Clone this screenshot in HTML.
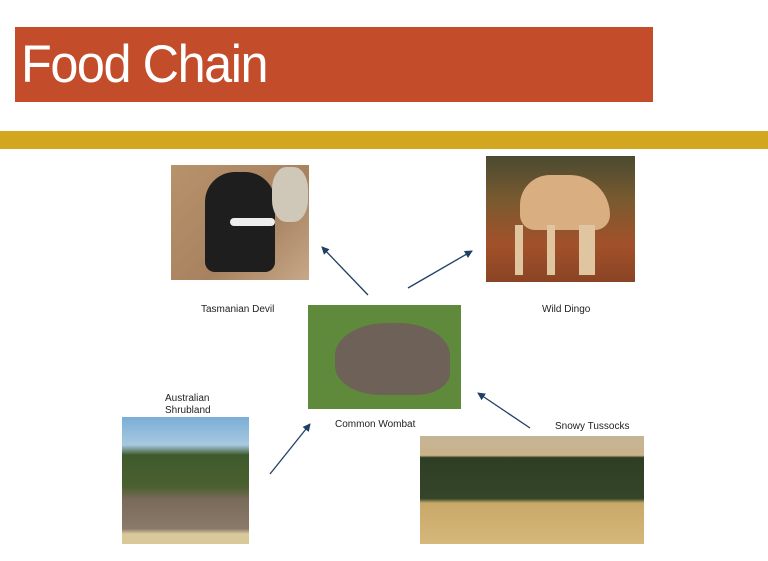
<!DOCTYPE html>
<html><head><style>
body{margin:0;width:768px;height:561px;background:#fff;position:relative;overflow:hidden;font-family:"Liberation Sans",sans-serif}
.a{position:absolute}
.l{position:absolute;font-size:10px;color:#222;line-height:12px}
</style></head><body>
<div class="a" style="left:15px;top:27px;width:638px;height:75px;background:#c34c2a"></div>
<div class="a" style="left:21px;top:34px;font-size:53px;color:#fff;letter-spacing:-1.5px;transform:scaleX(0.95);transform-origin:left">Food Chain</div>
<div class="a" style="left:0;top:131px;width:768px;height:18px;background:#d3a61f"></div>

<div class="a" style="left:171px;top:165px;width:138px;height:115px;background:linear-gradient(135deg,#b8926a,#a88260 60%,#c6a888)"></div>
<div class="a" style="left:205px;top:172px;width:70px;height:100px;background:#1e1e1e;border-radius:30px 30px 10px 10px"></div>
<div class="a" style="left:272px;top:167px;width:36px;height:55px;background:#cfc7b8;border-radius:40%"></div>
<div class="a" style="left:230px;top:218px;width:45px;height:8px;background:#eee;border-radius:4px"></div>

<div class="a" style="left:486px;top:156px;width:149px;height:126px;background:linear-gradient(180deg,#4a4a30,#7a5a30 35%,#a2512a 70%,#8a4424)"></div>
<div class="a" style="left:520px;top:175px;width:90px;height:55px;background:#d9ae80;border-radius:30px 40px 15px 15px"></div>
<div class="a" style="left:515px;top:225px;width:80px;height:50px;background:linear-gradient(90deg,#e0c6a0 10%,transparent 10% 40%,#e0c6a0 40% 50%,transparent 50% 80%,#e0c6a0 80%)"></div>

<div class="a" style="left:308px;top:305px;width:153px;height:104px;background:#5f8a3c"></div>
<div class="a" style="left:335px;top:323px;width:115px;height:72px;background:#6e6258;border-radius:45% 45% 30% 40%"></div>

<div class="a" style="left:122px;top:417px;width:127px;height:127px;background:linear-gradient(180deg,#7aaed6 0%,#a8c8e0 22%,#3e5a2c 30%,#4c6030 55%,#7a6a5a 65%,#8a7a6a 88%,#d8c89a 92%)"></div>

<div class="a" style="left:420px;top:436px;width:224px;height:108px;background:linear-gradient(180deg,#c4b496 0%,#cbb38a 18%,#2e3e22 20%,#34462a 58%,#c9a868 62%,#d6b87c)"></div>

<svg class="a" style="left:0;top:0" width="768" height="561">
<defs><marker id="m" markerWidth="8" markerHeight="8" refX="7" refY="4" orient="auto" markerUnits="userSpaceOnUse"><path d="M0,0 L8,4 L0,8 z" fill="#1f3f66"/></marker></defs>
<g stroke="#1f3f66" stroke-width="1.3" marker-end="url(#m)">
<line x1="368" y1="295" x2="322" y2="247"/>
<line x1="408" y1="288" x2="472" y2="251"/>
<line x1="270" y1="474" x2="310" y2="424"/>
<line x1="530" y1="428" x2="478" y2="393"/>
</g></svg>

<div class="l" style="left:201px;top:304px">Tasmanian Devil</div>
<div class="l" style="left:542px;top:304px">Wild Dingo</div>
<div class="l" style="left:165px;top:393px">Australian<br>Shrubland</div>
<div class="l" style="left:335px;top:419px">Common Wombat</div>
<div class="l" style="left:555px;top:421px">Snowy Tussocks</div>
</body></html>
